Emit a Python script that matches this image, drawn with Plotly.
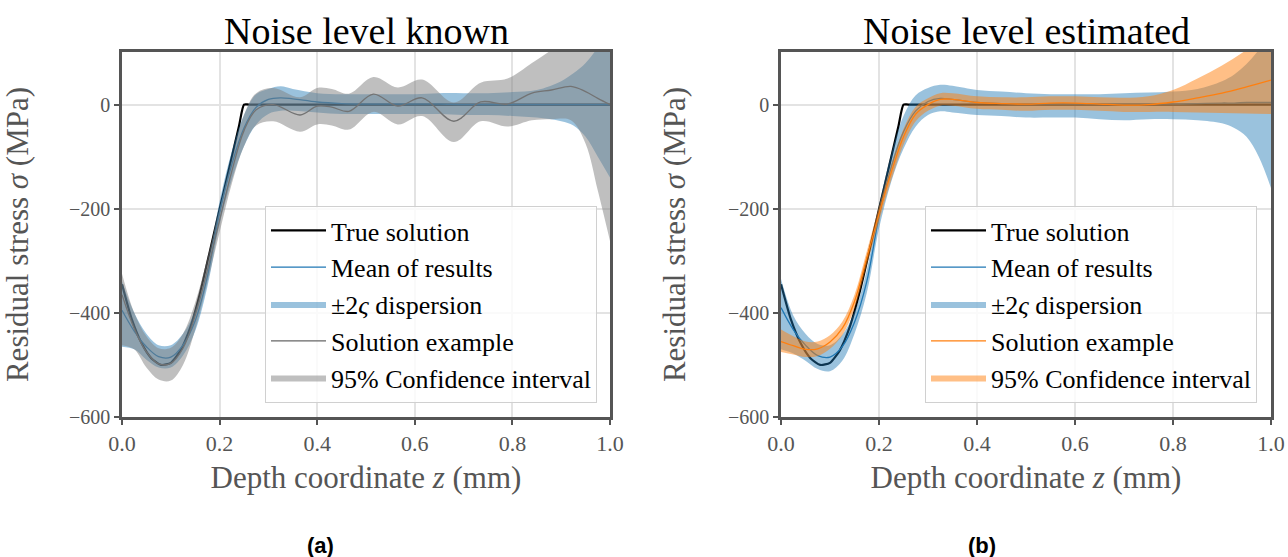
import plotly.graph_objects as go

# ---------------- data ----------------
# true solution (both panels)
z_true = [0.0, 0.02, 0.04, 0.06, 0.08, 0.10, 0.12, 0.14, 0.16, 0.18, 0.20, 0.22, 0.24, 0.25, 0.26, 0.5, 1.0]
s_true = [-345, -412, -458, -487, -500, -496, -472, -428, -362, -282, -201, -121, -40, 0, 0, 0, 0]

# panel (a): mean of results and +-2 dispersion
z_mean_a = [0.0, 0.025, 0.05, 0.075, 0.1, 0.125, 0.15, 0.175, 0.2, 0.225, 0.25, 0.275, 0.3, 0.325, 0.35,
            0.4, 0.45, 0.5, 0.55, 0.6, 0.65, 0.7, 0.75, 0.8, 0.85, 0.9, 0.925, 0.95, 0.975, 1.0]
mean_a = [-395, -435, -465, -484, -485, -462, -415, -330, -207, -115, -45, -5, 10, 13, 11,
          5, 2, 1, 1, 1, 1, 0, 0, 0, 0, 0, 0, 0, 0, 0]
disp_up_a = [-340, -400, -440, -462, -462, -440, -395, -310, -186, -90, -20, 20, 30, 35, 30,
             22, 20, 20, 20, 20, 22, 22, 22, 24, 28, 45, 60, 80, 110, 150]
disp_lo_a = [-465, -470, -490, -505, -505, -482, -435, -350, -230, -145, -80, -38, -18, -12, -12,
             -15, -18, -18, -18, -18, -18, -20, -20, -22, -25, -32, -40, -62, -100, -140]

# panel (a): solution example and 95% confidence interval
z_ex_a = [0.0, 0.025, 0.05, 0.075, 0.1, 0.125, 0.15, 0.175, 0.2, 0.225, 0.25, 0.275, 0.31, 0.365, 0.40,
          0.43, 0.465, 0.515, 0.565, 0.615, 0.68, 0.735, 0.79, 0.84, 0.88, 0.92, 0.95, 0.975, 1.0]
ex_a = [-365, -430, -475, -498, -497, -468, -405, -318, -222, -128, -50, -10, 0, -20, -3,
        -5, -13, 20, -3, 13, -32, 5, 1, 22, 28, 35, 25, 12, 0]
ci_up_a = [-325, -400, -445, -468, -467, -440, -380, -295, -200, -105, -20, 22, 32, 14, 32,
           30, 21, 53, 33, 48, 4, 42, 50, 80, 105, 135, 165, 195, 230]
ci_lo_a = [-462, -470, -505, -528, -530, -500, -432, -342, -245, -152, -80, -40, -32, -52, -38,
           -40, -48, -14, -38, -22, -72, -32, -42, -30, -28, -30, -75, -165, -262]

# panel (b): mean of results and +-2 dispersion
z_mean_b = [0.0, 0.025, 0.05, 0.075, 0.1, 0.125, 0.15, 0.175, 0.2, 0.225, 0.25, 0.275, 0.3, 0.325, 0.35,
            0.4, 0.45, 0.5, 0.55, 0.6, 0.65, 0.7, 0.75, 0.8, 0.85, 0.9, 0.925, 0.95, 0.975, 1.0]
mean_b = [-390, -432, -462, -482, -485, -465, -418, -340, -215, -120, -52, -12, 6, 12, 10,
          4, 2, 1, 1, 1, 1, 1, 1, 1, 2, 3, 3, 4, 4, 4]
disp_up_b = [-335, -405, -440, -460, -462, -442, -398, -318, -195, -95, -22, 18, 32, 38, 36,
             28, 25, 22, 20, 20, 20, 22, 23, 25, 30, 45, 58, 78, 105, 140]
disp_lo_b = [-470, -478, -492, -508, -512, -492, -440, -362, -238, -148, -85, -42, -20, -13, -15,
             -20, -22, -25, -25, -25, -28, -30, -28, -28, -30, -36, -45, -62, -100, -160]

# panel (b): solution example and 95% confidence interval
z_ex_b = [0.0, 0.025, 0.05, 0.075, 0.1, 0.125, 0.15, 0.175, 0.2, 0.225, 0.25, 0.275, 0.3, 0.325, 0.35,
          0.4, 0.45, 0.5, 0.55, 0.6, 0.65, 0.7, 0.75, 0.8, 0.85, 0.9, 0.95, 1.0]
ex_b = [-455, -463, -470, -469, -456, -430, -378, -295, -210, -130, -62, -18, 0, 10, 10,
        4, 2, 1, 3, 3, 1, -1, 0, 5, 13, 22, 34, 47]
ci_up_b = [-432, -445, -455, -455, -443, -417, -365, -282, -196, -115, -47, -4, 12, 22, 22,
           16, 14, 14, 16, 16, 14, 13, 16, 28, 50, 75, 105, 140]
ci_lo_b = [-475, -480, -485, -483, -469, -443, -391, -308, -224, -145, -77, -32, -12, -2, -2,
           -8, -10, -12, -10, -10, -12, -14, -14, -14, -15, -16, -17, -18]

titles = ["Noise level known", "Noise level estimated"]
panel_labels = ["(a)", "(b)"]
x_ticks = [0.0, 0.2, 0.4, 0.6, 0.8, 1.0]
y_ticks = [-600, -400, -200, 0]

# ---------------- styles ----------------
SERIF = "Liberation Serif"
BLUE = "#1f77b4"
BLUE_FILL = "rgba(31,119,180,0.45)"
GRAY_LINE = "#666666"
GRAY_FILL = "rgba(128,128,128,0.5)"
ORANGE = "#ff7f0e"
ORANGE_FILL = "rgba(255,127,14,0.5)"
AXC = "#555555"

fig = go.Figure()


def add_panel(xa, ya, leg, z_m, m, up, lo, z_e, e, cu, cl, ex_color, ci_fill):
    common = dict(xaxis=xa, yaxis=ya, legend=leg)
    fig.add_trace(go.Scatter(x=z_true, y=s_true, mode="lines", name="True solution",
                             line=dict(color="black", width=2.2, shape="spline", smoothing=0.6),
                             legendgroup=leg + "a", **common))
    fig.add_trace(go.Scatter(x=z_m, y=m, mode="lines", name="Mean of results",
                             line=dict(color=BLUE, width=1.3, shape="spline"),
                             legendgroup=leg + "b", **common))
    fig.add_trace(go.Scatter(x=z_m, y=up, mode="lines", showlegend=False, hoverinfo="skip",
                             line=dict(width=0, shape="spline"), legendgroup=leg + "c", **common))
    fig.add_trace(go.Scatter(x=z_m, y=lo, mode="lines", name="±2<i>ς</i> dispersion",
                             fill="tonexty", fillcolor=BLUE_FILL,
                             line=dict(width=0, shape="spline"), legendgroup=leg + "c", **common))
    fig.add_trace(go.Scatter(x=z_e, y=e, mode="lines", name="Solution example",
                             line=dict(color=ex_color, width=1.3, shape="spline"),
                             legendgroup=leg + "d", **common))
    fig.add_trace(go.Scatter(x=z_e, y=cu, mode="lines", showlegend=False, hoverinfo="skip",
                             line=dict(width=0, shape="spline"), legendgroup=leg + "e", **common))
    fig.add_trace(go.Scatter(x=z_e, y=cl, mode="lines", name="95% Confidence interval",
                             fill="tonexty", fillcolor=ci_fill,
                             line=dict(width=0, shape="spline"), legendgroup=leg + "e", **common))


add_panel("x", "y", "legend", z_mean_a, mean_a, disp_up_a, disp_lo_a,
          z_ex_a, ex_a, ci_up_a, ci_lo_a, GRAY_LINE, GRAY_FILL)
add_panel("x2", "y2", "legend2", z_mean_b, mean_b, disp_up_b, disp_lo_b,
          z_ex_b, ex_b, ci_up_b, ci_lo_b, ORANGE, ORANGE_FILL)

W, H = 1288, 557
dom_a = [122 / W, 610 / W]
dom_b = [781 / W, 1271 / W]
dom_y = [1 - 417 / H, 1 - 52 / H]

xax = dict(range=[0, 1], tickvals=x_ticks, tickformat=".1f", showline=True, linewidth=2.5,
           linecolor=AXC, mirror=True, ticks="outside", ticklen=5, tickwidth=1.5, tickcolor=AXC,
           showgrid=True, gridcolor="#e3e3e3", gridwidth=1.5, zeroline=False, automargin=False,
           tickfont=dict(family=SERIF, size=22, color=AXC),
           title=dict(text="Depth coordinate <i>z</i> (mm)", font=dict(family=SERIF, size=31, color=AXC),
                      standoff=12))
yax = dict(range=[-600, 101], tickvals=y_ticks, showline=True, linewidth=2.5,
           linecolor=AXC, mirror=True, ticks="outside", ticklen=5, tickwidth=1.5, tickcolor=AXC,
           showgrid=True, gridcolor="#e3e3e3", gridwidth=1.5, zeroline=False, automargin=False,
           tickfont=dict(family=SERIF, size=20, color=AXC),
           title=dict(text="Residual stress <i>σ</i> (MPa)", font=dict(family=SERIF, size=31, color=AXC),
                      standoff=34))

leg_common = dict(font=dict(family=SERIF, size=26, color="black"), bgcolor="rgba(255,255,255,0.8)",
                  bordercolor="#d0d0d0", borderwidth=1, itemwidth=55, tracegroupgap=0,
                  traceorder="grouped", xanchor="right", yanchor="bottom")

fig.update_layout(
    width=W, height=H, margin=dict(l=0, r=0, t=0, b=0),
    paper_bgcolor="white", plot_bgcolor="white", showlegend=True,
    xaxis=dict(domain=dom_a, anchor="y", **xax),
    yaxis=dict(domain=dom_y, anchor="x", **yax),
    xaxis2=dict(domain=dom_b, anchor="y2", **xax),
    yaxis2=dict(domain=dom_y, anchor="x2", **yax),
    legend=dict(x=597 / W, y=1 - 403 / H, **leg_common),
    legend2=dict(x=1257 / W, y=1 - 403 / H, **leg_common),
)

for i, (t, dom) in enumerate(zip(titles, [dom_a, dom_b])):
    cx = (dom[0] + dom[1]) / 2
    fig.add_annotation(text=t, x=cx, y=1 - 31 / H, xref="paper", yref="paper", showarrow=False,
                       font=dict(family=SERIF, size=38, color="black"), xanchor="center", yanchor="middle")
    fig.add_annotation(text="<b>" + panel_labels[i] + "</b>", x=[320, 982][i] / W, y=1 - 545 / H,
                       xref="paper", yref="paper", showarrow=False,
                       font=dict(family="Liberation Sans", size=22, color="black"),
                       xanchor="center", yanchor="middle")

fig.write_html("out.html")
